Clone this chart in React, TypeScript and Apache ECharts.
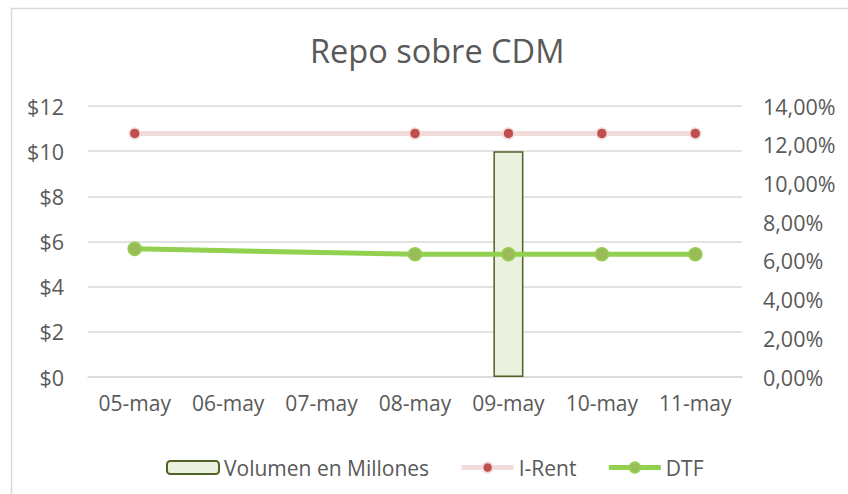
import React, { useEffect, useRef } from "react";
import * as echarts from "echarts";

const categories = ["05-may", "06-may", "07-may", "08-may", "09-may", "10-may", "11-may"];
const volumen = [null, null, null, null, 10, null, null];
const iRent = [12.58, null, null, 12.58, 12.58, 12.58, 12.58];
const dtf = [6.62, null, null, 6.34, 6.34, 6.34, 6.34];

const FONT = "'Open Sans', sans-serif";
const TXT = "#595959";

export default function App() {
  const ref = useRef<HTMLDivElement>(null);
  useEffect(() => {
    document.body.style.margin = "0";
    const chart = echarts.init(ref.current!, null, { renderer: "svg" });
    chart.setOption({
      animation: false,
      backgroundColor: "#ffffff",
      textStyle: { fontFamily: FONT },
      title: {
        text: "Repo sobre CDM",
        left: 305,
        top: 29,
        textStyle: { fontFamily: FONT, fontSize: 32.5, fontWeight: "normal", color: TXT },
      },
      graphic: [
        {
          type: "rect",
          shape: { x: 11.5, y: 8.5, width: 900, height: 600 },
          style: { fill: "none", stroke: "#d9d9d9", lineWidth: 1.5 },
          silent: true,
          z: -10,
        },
      ],
      legend: {
        left: 161,
        top: 452,
        itemWidth: 52,
        itemHeight: 13,
        itemGap: 30,
        textStyle: { fontFamily: FONT, fontSize: 21, color: TXT },
        data: [
          { name: "Volumen en Millones" },
          { name: "I-Rent", lineStyle: { width: 5, color: "#f2dcdb" } },
          { name: "DTF", lineStyle: { width: 5, color: "#92d050" } },
        ],
      },
      grid: { left: 88, right: 106, top: 106, bottom: 117 },
      xAxis: {
        type: "category",
        data: categories,
        axisLine: { lineStyle: { color: "#d9d9d9", width: 1.5 } },
        axisTick: { show: false },
        axisLabel: { fontFamily: FONT, fontSize: 21, color: TXT, margin: 15, interval: 0, hideOverlap: false },
      },
      yAxis: [
        {
          type: "value",
          min: 0,
          max: 12,
          interval: 2,
          axisLine: { show: false },
          axisTick: { show: false },
          splitLine: { lineStyle: { color: "#d9d9d9", width: 1.5 } },
          axisLabel: {
            fontFamily: FONT,
            fontSize: 21.5,
            color: TXT,
            margin: 24,
            formatter: (v: number) => "$" + v,
          },
        },
        {
          type: "value",
          min: 0,
          max: 14,
          interval: 2,
          axisLine: { show: false },
          axisTick: { show: false },
          splitLine: { show: false },
          axisLabel: {
            fontFamily: FONT,
            fontSize: 21.5,
            color: TXT,
            margin: 21,
            formatter: (v: number) => v.toFixed(2).replace(".", ",") + "%",
          },
        },
      ],
      series: [
        {
          name: "Volumen en Millones",
          type: "bar",
          data: volumen,
          yAxisIndex: 0,
          barWidth: 30,
          itemStyle: { color: "#ebf1de", borderColor: "#4f6228", borderWidth: 1.5 },
          z: 1,
        },
        {
          name: "I-Rent",
          type: "line",
          data: iRent,
          yAxisIndex: 1,
          connectNulls: true,
          symbol: "circle",
          symbolSize: 11,
          lineStyle: { color: "#f2dcdb", width: 5 },
          itemStyle: { color: "#c0504d", borderColor: "#f2dcdb", borderWidth: 1.5 },
          z: 3,
        },
        {
          name: "DTF",
          type: "line",
          data: dtf,
          yAxisIndex: 1,
          connectNulls: true,
          symbol: "circle",
          symbolSize: 13,
          lineStyle: { color: "#92d050", width: 5 },
          itemStyle: { color: "#9bbb59", borderColor: "#92d050", borderWidth: 1.5 },
          z: 4,
        },
      ],
    });
    return () => chart.dispose();
  }, []);
  return <div ref={ref} style={{ width: 848, height: 494 }} />;
}
